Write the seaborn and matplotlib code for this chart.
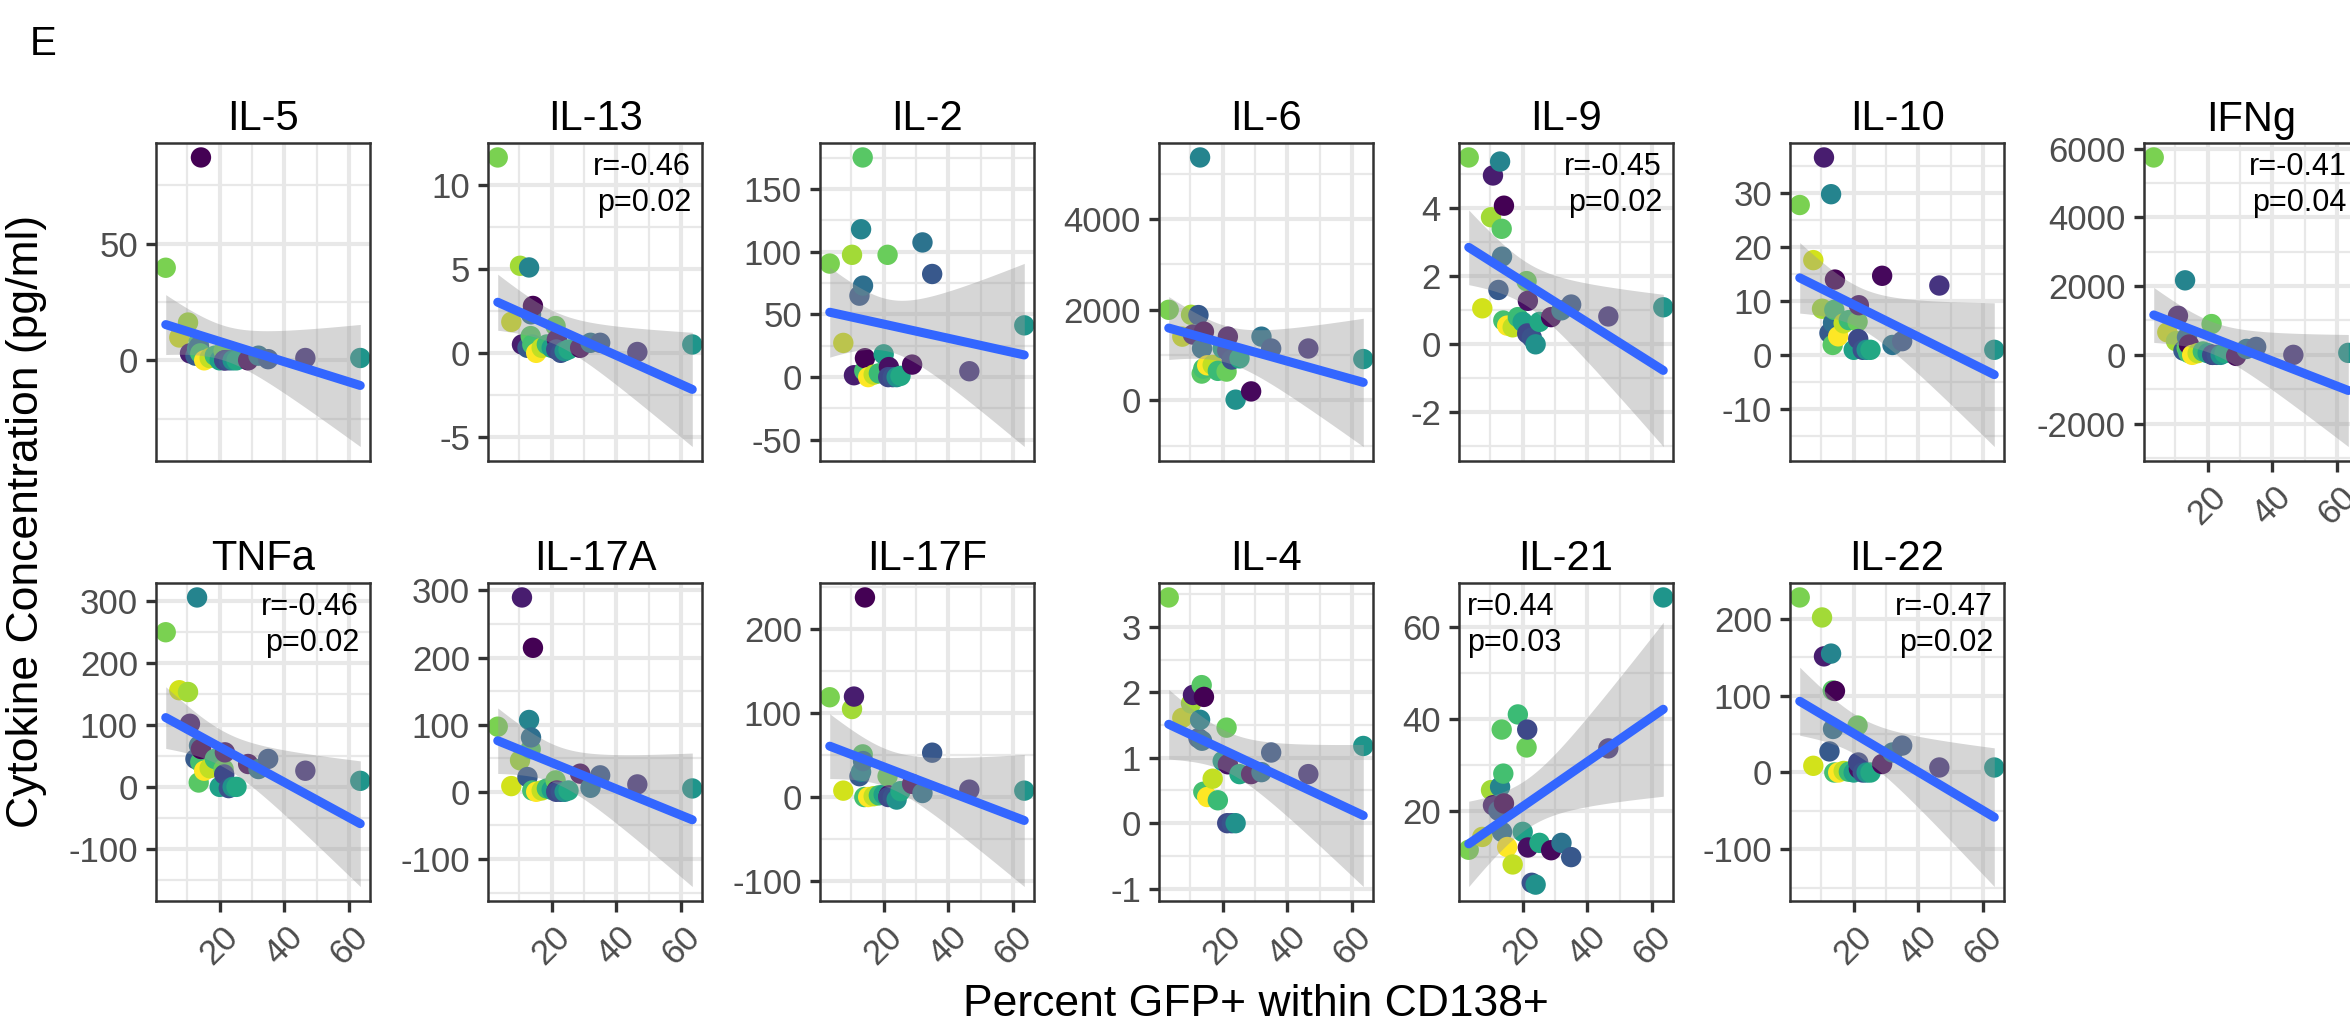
import numpy as np
import pandas as pd
import matplotlib
matplotlib.use("Agg")
import matplotlib.pyplot as plt
import seaborn as sns
from matplotlib.ticker import MultipleLocator, AutoMinorLocator

# ---------------- data ----------------
samples = [f"S{i:02d}" for i in range(1, 26)]
pct_gfp = [3.3, 7.5, 10.2, 10.8, 12.5, 13.0, 13.5, 13.6, 14.0, 14.2, 15.2, 16.9, 18.5,
           20.0, 21.2, 21.6, 21.4, 22.8, 24.0, 25.2, 28.8, 32.0, 35.0, 46.5, 63.5]
sample_shade = [0.80, 0.93, 0.86, 0.08, 0.28, 0.45, 0.74, 0.36, 0.70, 0.0, 1.0, 0.91, 0.68,
                0.57, 0.77, 0.04, 0.22, 0.25, 0.5, 0.6, 0.02, 0.38, 0.27, 0.15, 0.52]

il5 = [39.7, 9.8, 16.2, 3, 2, 5, 8, 6, 3, 87, 0, 1, 2, 0, 4, 0, 0, 0, 0, 0, 0, 2, 0.5, 1, 1]
il13 = [11.67, 1.85, 5.2, 0.5, 0.3, 5.1, 1.0, 2.3, 0.5, 2.8, 0, 0.3, 0.5, 0.3, 1.6, 0.8, 0.2,
        0, 0.1, 0.2, 0.3, 0.6, 0.6, 0.05, 0.5]
il2 = [90.6, 27.3, 97.6, 1.5, 65, 118, 175.3, 73, 5, 15.1, 0, 2, 3, 18.2, 97.6, 8, 0, 0, 0,
       1, 10, 107.5, 82.3, 4.7, 41.3]
il6 = [1996, 1404, 1886, 1450, 1880, 5355, 590, 1143, 700, 1515, 772, 780, 650, 1143, 634,
       1404, 1100, 900, 15, 925, 197, 1404, 1143, 1143, 910]
il9 = [5.5, 1.06, 3.74, 4.97, 1.6, 5.38, 3.4, 2.58, 0.7, 4.08, 0.55, 0.5, 0.8, 0.66, 1.86,
       1.28, 0.32, 0.2, 0.0, 0.66, 0.8, 1.0, 1.17, 0.82, 1.09]
il10 = [27.8, 17.6, 8.6, 36.6, 4.1, 29.8, 1.9, 6, 8.4, 14, 3.5, 5.9, 6.5, 1.0, 6.2, 9.25, 3,
        1.0, 1.0, 1.0, 14.7, 1.9, 2.6, 12.9, 1.0]
ifng = [5743, 656, 400, 1136, 124, 2168, 200, 512, 60, 300, 0, 50, 100, 50, 896, 0, 0, 0, 0,
        50, -30, 173, 231, 0, 58]
tnfa = [249, 155.6, 152.8, 101.6, 45, 305, 7, 66.5, 40, 61, 26, 30, 45, 0, 28.7, 55.6, 20,
        -2, 0, 0, 36.8, 28.7, 45, 26, 9.7]
il17a = [97, 8.5, 47, 289.5, 22, 107, 63.6, 81, 2, 214.5, 0, 2, 5, 3, 17, 2, 0, 0, 0, 2, 27,
         6, 24.5, 11, 5]
il17f = [118.8, 7.6, 104.8, 119.6, 24.8, 30, 50.8, 42.8, 0, 237.6, 0, 1, 2, 3, 24.8, 2, 0, 0,
         -3, 7, 15.6, 4.8, 52.8, 8.8, 7.6]
il4 = [3.45, 1.61, 1.83, 1.96, 1.3, 1.58, 2.11, 1.26, 0.48, 1.93, 0.40, 0.68, 0.35, 0.95,
       1.46, 0.90, 0.0, 0.0, 0.0, 0.75, 0.75, 0.78, 1.08, 0.75, 1.18]
il21 = [11.5, 14.3, 24.5, 21.2, 20, 25.2, 37.7, 15.4, 28.1, 21.6, 12.1, 8.3, 41.0, 15.4, 33.8,
        12, 37.7, 4.3, 3.9, 13.0, 11.4, 13.0, 9.9, 33.6, 66.5]
il22 = [227.6, 8.7, 201.6, 151, 27.4, 154.6, 106.7, 56.6, 0, 106, 0, 2, 1, 0, 61, 5, 13, 0, 0,
        0, 11, 26, 35, 6.5, 6.5]

row1_names = ["IL-5", "IL-13", "IL-2", "IL-6", "IL-9", "IL-10", "IFNg"]
row1_values = [il5, il13, il2, il6, il9, il10, ifng]
row1_steps = [50, 5, 50, 2000, 2, 10, 2000]
row1_stats = [None, ("r=-0.46", "p=0.02"), None, None, ("r=-0.45", "p=0.02"), None,
              ("r=-0.41", "p=0.04")]

row2_names = ["TNFa", "IL-17A", "IL-17F", "IL-4", "IL-21", "IL-22"]
row2_values = [tnfa, il17a, il17f, il4, il21, il22]
row2_steps = [100, 100, 100, 1, 20, 100]
row2_stats = [("r=-0.46", "p=0.02"), None, None, None, ("r=0.44", "p=0.03"),
              ("r=-0.47", "p=0.02")]

# ---------------- style ----------------
sns.set_style("white")
plt.rcParams["font.family"] = ["Liberation Sans", "DejaVu Sans"]
plt.rcParams["axes.unicode_minus"] = False

W, H = 2350, 1035
fig = plt.figure(figsize=(W / 100, H / 100), dpi=100)

cmap = plt.get_cmap("viridis")
palette = {s: cmap(v) for s, v in zip(samples, sample_shade)}

col_left = [156, 488, 820, 1159, 1459, 1790, 2144]
panel_w = 214
row_top = [143, 583]
panel_h = 318


def t975(df):
    z = 1.959963985
    g1 = (z ** 3 + z) / 4
    g2 = (5 * z ** 5 + 16 * z ** 3 + 3 * z) / 96
    g3 = (3 * z ** 7 + 19 * z ** 5 + 17 * z ** 3 - 15 * z) / 384
    return z + g1 / df + g2 / df ** 2 + g3 / df ** 3


def draw_panel(ax, name, yvals, step, show_x, stats, stats_left=False):
    df = pd.DataFrame({"pct": pct_gfp, "conc": yvals, "sample": samples})
    sns.scatterplot(data=df, x="pct", y="conc", hue="sample", palette=palette, s=215,
                    linewidth=0, legend=False, ax=ax, zorder=2)
    x = np.asarray(pct_gfp, float)
    y = np.asarray(yvals, float)
    n = len(x)
    b1, b0 = np.polyfit(x, y, 1)
    xs = np.linspace(x.min(), x.max(), 100)
    fit = b0 + b1 * xs
    resid = y - (b0 + b1 * x)
    s = np.sqrt((resid ** 2).sum() / (n - 2))
    se = s * np.sqrt(1 / n + (xs - x.mean()) ** 2 / ((x - x.mean()) ** 2).sum())
    tq = t975(n - 2)
    lo, hi = fit - tq * se, fit + tq * se
    ax.fill_between(xs, lo, hi, color="#999999", alpha=0.4, lw=0, zorder=3)
    sns.lineplot(x=xs, y=fit, color="#3366FF", lw=6.5, ax=ax, zorder=4)

    xr = x.max() - x.min()
    ax.set_xlim(x.min() - 0.05 * xr, x.max() + 0.05 * xr)
    ymin = min(y.min(), lo.min())
    ymax = max(y.max(), hi.max())
    yr = ymax - ymin
    ax.set_ylim(ymin - 0.05 * yr, ymax + 0.05 * yr)

    ax.xaxis.set_major_locator(MultipleLocator(20))
    ax.xaxis.set_minor_locator(AutoMinorLocator(2))
    ax.yaxis.set_major_locator(MultipleLocator(step))
    ax.yaxis.set_minor_locator(AutoMinorLocator(2))
    ax.grid(which="major", color="#E8E8E8", lw=3.0)
    ax.grid(which="minor", color="#E8E8E8", lw=1.6)
    ax.set_axisbelow(True)
    for sp in ax.spines.values():
        sp.set_visible(True)
        sp.set_color("#333333")
        sp.set_linewidth(1.8)

    ax.tick_params(axis="y", which="major", length=7, width=2.4, color="#333333",
                   labelsize=25, labelcolor="#4D4D4D", pad=6, left=True)
    ax.tick_params(axis="y", which="minor", length=0)
    if show_x:
        ax.tick_params(axis="x", which="major", length=8, width=2.4, color="#333333",
                       labelsize=25, labelcolor="#4D4D4D", pad=6, bottom=True,
                       labelrotation=45)
    else:
        ax.tick_params(axis="x", which="both", length=0, labelbottom=False)
    ax.tick_params(axis="x", which="minor", length=0)
    ax.set_xlabel("")
    ax.set_ylabel("")
    ax.set_title(name, fontsize=30, pad=9, color="black")

    if stats is not None:
        if stats_left:
            xa, ha, dx = 0, "left", 6
        else:
            xa, ha, dx = 1, "right", -8
        ax.annotate(stats[0], xy=(xa, 1), xycoords="axes fraction", xytext=(dx, -23),
                    textcoords="offset points", ha=ha, va="baseline", fontsize=22,
                    color="black", zorder=6)
        ax.annotate(stats[1], xy=(xa, 1), xycoords="axes fraction", xytext=(dx, -49),
                    textcoords="offset points", ha=ha, va="baseline", fontsize=22,
                    color="black", zorder=6)


def add_axes(col, row):
    l = col_left[col]
    t = row_top[row]
    return fig.add_axes([l / W, 1 - (t + panel_h) / H, panel_w / W, panel_h / H])


for i, (nm, vals, st, stt) in enumerate(zip(row1_names, row1_values, row1_steps, row1_stats)):
    ax = add_axes(i, 0)
    draw_panel(ax, nm, vals, st, show_x=(i == 6), stats=stt)

for i, (nm, vals, st, stt) in enumerate(zip(row2_names, row2_values, row2_steps, row2_stats)):
    ax = add_axes(i, 1)
    draw_panel(ax, nm, vals, st, show_x=True, stats=stt, stats_left=(nm == "IL-21"))

fig.text(27 / W, 1 - 521 / H, "Cytokine Concentration (pg/ml)", rotation=90,
         ha="center", va="center", fontsize=32, color="black")
fig.text(1256 / W, 1 - 1004 / H, "Percent GFP+ within CD138+", ha="center", va="center",
         fontsize=32, color="black")
fig.text(43 / W, 1 - 44 / H, "E", ha="center", va="center", fontsize=29, color="black")

fig.savefig("out.png", dpi=100, facecolor="white")
